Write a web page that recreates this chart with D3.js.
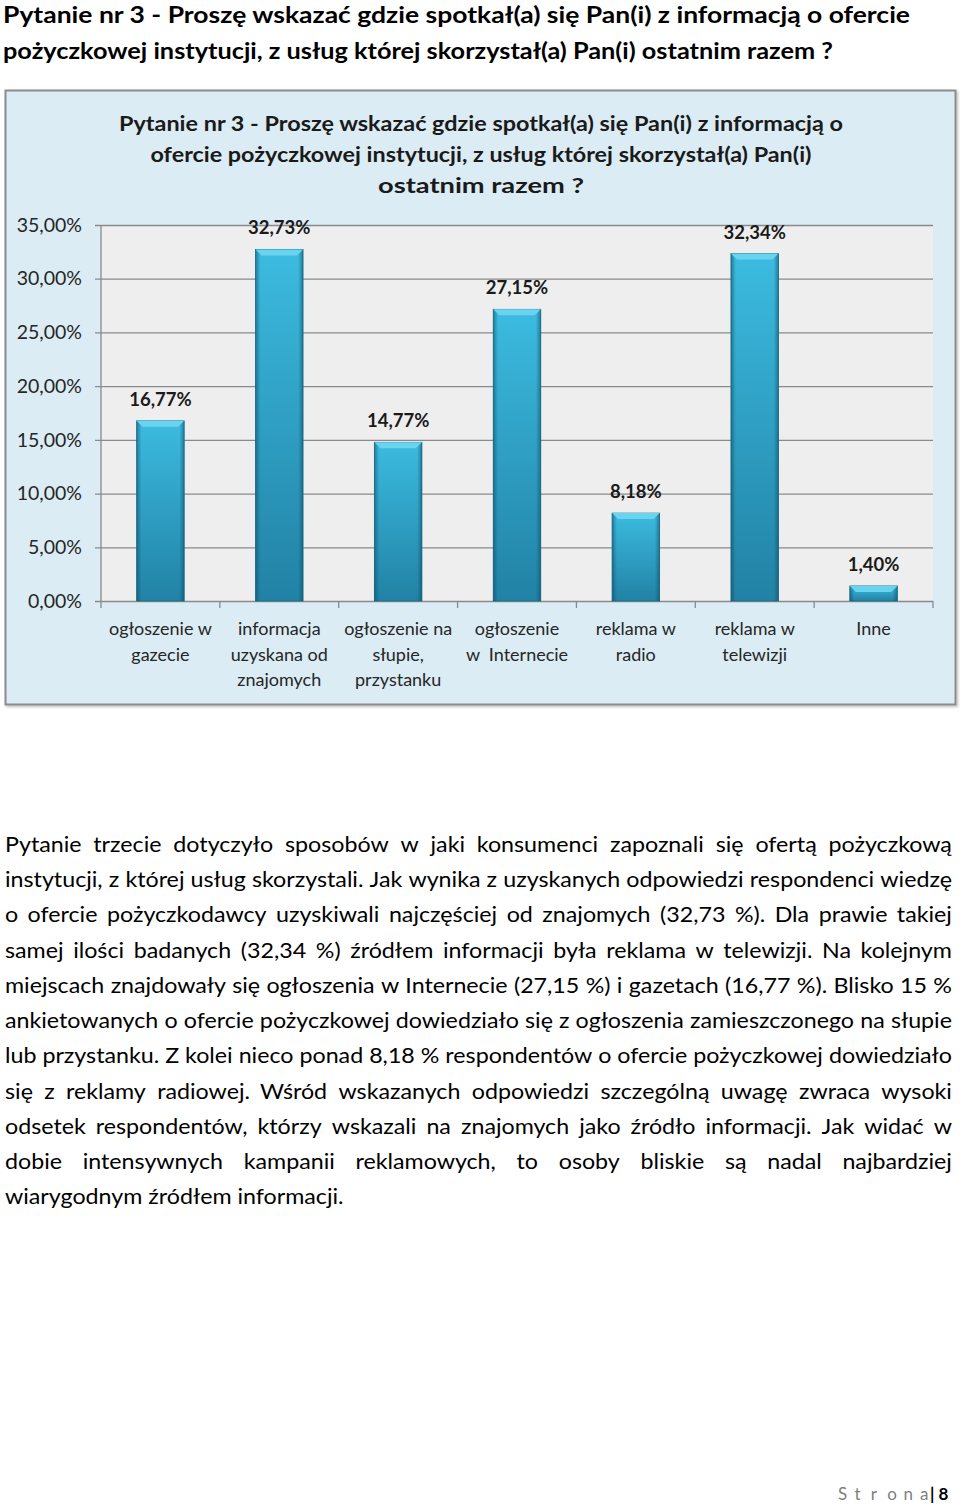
<!DOCTYPE html>
<html><head><meta charset="utf-8">
<script src="https://cdn.jsdelivr.net/npm/d3@7"></script>
<style>
html,body{margin:0;padding:0;background:#fff;}
svg{display:block;font-family:Lato,"Open Sans",sans-serif;}
</style></head>
<body>
<svg id="page" width="960" height="1505"></svg>
<script>
// ---------- data ----------
const pageTitle = ["Pytanie nr 3 - Proszę wskazać gdzie spotkał(a) się Pan(i) z informacją o ofercie",
                   "pożyczkowej instytucji, z usług której skorzystał(a) Pan(i) ostatnim razem ?"];
const chartTitle = ["Pytanie nr 3 - Proszę wskazać gdzie spotkał(a) się Pan(i) z informacją o",
                    "ofercie pożyczkowej instytucji, z usług której skorzystał(a) Pan(i)",
                    "ostatnim razem ?"];
const categories = ["ogłoszenie w\ngazecie", "informacja\nuzyskana od\nznajomych",
                    "ogłoszenie na\nsłupie,\nprzystanku", "ogłoszenie\nw  Internecie",
                    "reklama w\nradio", "reklama w\ntelewizji", "Inne"];
const values = [0.1677, 0.3273, 0.1477, 0.2715, 0.0818, 0.3234, 0.0140];
const yTicks = [0, 0.05, 0.10, 0.15, 0.20, 0.25, 0.30, 0.35];
const bodyLines = [
 "Pytanie trzecie dotyczyło sposobów w jaki konsumenci zapoznali się ofertą pożyczkową",
 "instytucji, z której usług skorzystali. Jak wynika z uzyskanych odpowiedzi respondenci wiedzę",
 "o ofercie pożyczkodawcy uzyskiwali najczęściej od znajomych (32,73 %). Dla prawie takiej",
 "samej ilości badanych (32,34 %) źródłem informacji była reklama w telewizji. Na kolejnym",
 "miejscach znajdowały się ogłoszenia w Internecie (27,15 %) i gazetach (16,77 %). Blisko 15 %",
 "ankietowanych o ofercie pożyczkowej dowiedziało się z ogłoszenia zamieszczonego na słupie",
 "lub przystanku. Z kolei nieco ponad 8,18 % respondentów o ofercie pożyczkowej dowiedziało",
 "się z reklamy radiowej. Wśród wskazanych odpowiedzi szczególną uwagę zwraca wysoki",
 "odsetek respondentów, którzy wskazali na znajomych jako źródło informacji. Jak widać w",
 "dobie intensywnych kampanii reklamowych, to osoby bliskie są nadal najbardziej",
 "wiarygodnym źródłem informacji."
];
const footerWord = "Strona";
const footerPage = "8";

// ---------- layout ----------
const svg = d3.select("#page");
const fmt = d => (d * 100).toFixed(2).replace(".", ",") + "%";

// page title
const ptW = [907, 830];
pageTitle.forEach((t, i) => {
  svg.append("text").attr("x", 3).attr("y", 23 + i * 36)
    .attr("font-size", 23).attr("font-weight", "bold").attr("fill", "#000")
    .attr("textLength", ptW[i]).attr("lengthAdjust", "spacingAndGlyphs").text(t);
});

// chart frame
const defs = svg.append("defs");
const sh = defs.append("filter").attr("id", "sh").attr("x", "-5%").attr("y", "-5%").attr("width", "110%").attr("height", "110%");
sh.append("feDropShadow").attr("dx", 1.5).attr("dy", 1.5).attr("stdDeviation", 1.2).attr("flood-color", "#000").attr("flood-opacity", 0.25);
svg.append("rect").attr("x", 5.5).attr("y", 90.5).attr("width", 950).attr("height", 614)
  .attr("fill", "#dbecf4").attr("stroke", "#8c8c8c").attr("stroke-width", 2).attr("filter", "url(#sh)");

// chart title
const ctW = [724, 661, 206];
chartTitle.forEach((t, i) => {
  svg.append("text").attr("x", 481).attr("y", 131 + i * 31).attr("text-anchor", "middle")
    .attr("font-size", 21).attr("font-weight", "bold").attr("fill", "#1a1a1a")
    .attr("textLength", ctW[i]).attr("lengthAdjust", "spacingAndGlyphs").text(t);
});

// scales
const plotL = 101, plotR = 933, plotT = 225, plotB = 601;
const x = d3.scaleBand().domain(categories).range([plotL, plotR]);
const y = d3.scaleLinear().domain([0, 0.35]).range([plotB, plotT]);

svg.append("rect").attr("x", plotL).attr("y", plotT).attr("width", plotR - plotL).attr("height", plotB - plotT)
  .attr("fill", "#eeeeee");

// grid + y labels
const yAxis = svg.append("g").attr("transform", `translate(${plotL - 6},0)`)
  .call(d3.axisLeft(y).tickValues(yTicks).tickFormat(fmt).tickSizeInner(-(plotR - plotL + 6)).tickSizeOuter(0).tickPadding(13));
yAxis.select(".domain").remove();
yAxis.selectAll(".tick line").attr("stroke", "#8a8a8a").attr("stroke-width", 1.3);
yAxis.selectAll(".tick text").attr("font-size", 19.5).attr("fill", "#262626").attr("font-family", "Lato");
svg.append("line").attr("x1", plotL).attr("x2", plotL).attr("y1", plotT).attr("y2", plotB)
  .attr("stroke", "#8a8a8a").attr("stroke-width", 1.3);

// x ticks at band boundaries
const bounds = categories.map(c => x(c)).concat([x(categories[categories.length - 1]) + x.bandwidth()]);
svg.append("g").selectAll("line").data(bounds).join("line")
  .attr("x1", d => d).attr("x2", d => d).attr("y1", plotB).attr("y2", plotB + 7)
  .attr("stroke", "#8a8a8a").attr("stroke-width", 1.3);

// bars
const gradV = defs.append("linearGradient").attr("id", "gv").attr("x1", 0).attr("x2", 0).attr("y1", 0).attr("y2", 1);
gradV.append("stop").attr("offset", 0).attr("stop-color", "#3cbbe0");
gradV.append("stop").attr("offset", 1).attr("stop-color", "#2182a5");
const gradH = defs.append("linearGradient").attr("id", "gh").attr("x1", 0).attr("x2", 1).attr("y1", 0).attr("y2", 0);
gradH.append("stop").attr("offset", 0).attr("stop-color", "#0b4a60").attr("stop-opacity", 0.55);
gradH.append("stop").attr("offset", 0.1).attr("stop-color", "#0b4a60").attr("stop-opacity", 0.0);
gradH.append("stop").attr("offset", 0.9).attr("stop-color", "#0b4a60").attr("stop-opacity", 0.0);
gradH.append("stop").attr("offset", 1).attr("stop-color", "#0b4a60").attr("stop-opacity", 0.55);

const bw = x.bandwidth() * 0.4, bOff = x.bandwidth() * 0.3, bev = 6;
const bars = svg.append("g").selectAll("g").data(values).join("g");
bars.append("rect").attr("x", (d, i) => x(categories[i]) + bOff).attr("y", d => y(d))
  .attr("width", bw).attr("height", d => plotB - y(d)).attr("fill", "url(#gv)")
  .attr("stroke", "#1c6d8a").attr("stroke-width", 0.8);
bars.append("rect").attr("x", (d, i) => x(categories[i]) + bOff).attr("y", d => y(d))
  .attr("width", bw).attr("height", d => plotB - y(d)).attr("fill", "url(#gh)");
bars.append("path").attr("d", (d, i) => {
  const x0 = x(categories[i]) + bOff, x1 = x0 + bw, y0 = y(d);
  const h = Math.min(bev, (plotB - y0) / 2);
  return `M${x0},${y0}L${x1},${y0}L${x1 - h},${y0 + h}L${x0 + h},${y0 + h}Z`;
}).attr("fill", "#6ad3ef");

// value labels
svg.append("g").selectAll("text").data(values).join("text")
  .attr("x", (d, i) => x(categories[i]) + x.bandwidth() / 2).attr("y", d => y(d) - 15)
  .attr("text-anchor", "middle").attr("font-size", 18.5).attr("font-weight", "bold").attr("fill", "#1a1a1a")
  .text(fmt);

// x labels
const xl = svg.append("g").selectAll("text").data(categories).join("text")
  .attr("x", d => x(d) + x.bandwidth() / 2).attr("y", 635)
  .attr("text-anchor", "middle").attr("font-size", 18).attr("fill", "#262626");
xl.each(function(d) {
  const t = d3.select(this);
  d.split("\n").forEach((ln, j) => {
    t.append("tspan").attr("x", x(d) + x.bandwidth() / 2).attr("dy", j === 0 ? 0 : 25.5)
      .attr("xml:space", "preserve").text(ln);
  });
});

// body text, justified
const bodyL = 5, bodyR = 952, bodyW = bodyR - bodyL, bodyTop = 852, lh = 35.25, bfs = 22;
const inner = svg.append("g");
const lineData = bodyLines.map((ln, i) => {
  const t = inner.append("text").attr("y", bodyTop + i * lh).attr("font-size", bfs).attr("fill", "#000");
  const words = ln.split(" ");
  const spans = words.map(w => t.append("tspan").text(w));
  const widths = spans.map(s => s.node().getComputedTextLength());
  return { t, words, spans, widths };
});
const p2 = inner.append("text").attr("font-size", bfs).text("a a");
const p1 = inner.append("text").attr("font-size", bfs).text("a");
const spaceW = p2.node().getComputedTextLength() - 2 * p1.node().getComputedTextLength();
p2.remove(); p1.remove();
const naturals = lineData.map(l => d3.sum(l.widths) + spaceW * (l.words.length - 1));
const sx = bodyW / d3.max(naturals.slice(0, -1));
inner.attr("transform", `translate(${bodyL},0) scale(${sx},1)`);
lineData.forEach((l, i) => {
  const last = i === lineData.length - 1;
  const gap = last ? spaceW : (bodyW / sx - d3.sum(l.widths)) / (l.words.length - 1);
  let cx = 0;
  l.spans.forEach((s, k) => { s.attr("x", cx); cx += l.widths[k] + gap; });
});

// footer
const fw = svg.append("text").attr("y", 1500).attr("font-size", 17).attr("fill", "#7f7f7f");
footerWord.split("").forEach((ch, k) => fw.append("tspan").attr("x", 838 + k * 16.4).text(ch));
svg.append("text").attr("x", 930).attr("y", 1500).attr("font-size", 17).attr("font-weight", "bold").attr("fill", "#000")
  .text("| " + footerPage);
</script>
</body></html>
